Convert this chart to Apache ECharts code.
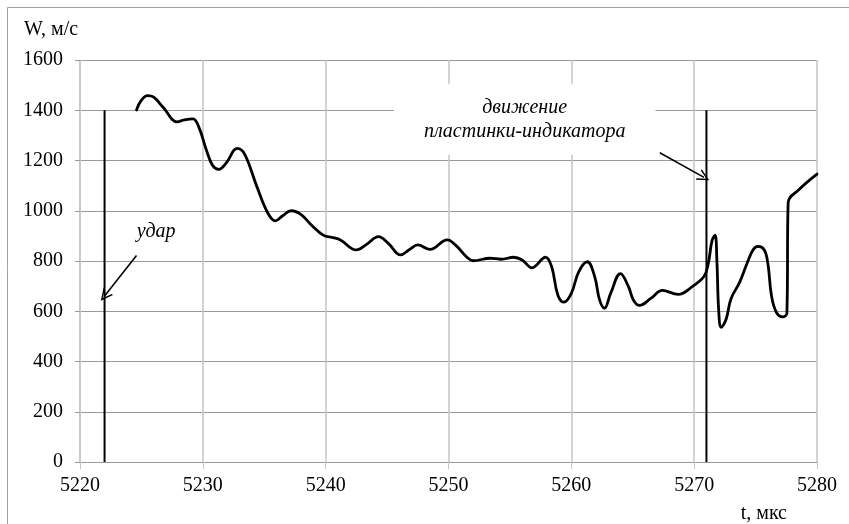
<!DOCTYPE html>
<html>
<head>
<meta charset="utf-8">
<script src="https://cdn.jsdelivr.net/npm/echarts@6/dist/echarts.min.js"></script>
<style>
html,body{margin:0;padding:0;background:#fff;}
#c{width:849px;height:524px;}
</style>
</head>
<body>
<div id="c"></div>
<script>
// Measured velocity curve: time (мкс) and velocity (м/с)
var tValues = [5224.6,5225.0,5225.5,5226.0,5226.8,5227.9,5228.5,5229.2,5229.7,5230.3,5230.8,5231.3,5231.9,5232.8,5233.4,5234.4,5235.3,5235.9,5236.5,5237.2,5238.0,5238.9,5239.8,5240.6,5241.2,5242.5,5243.3,5244.3,5245.1,5246.1,5246.8,5247.5,5248.5,5249.9,5250.6,5251.5,5252.0,5253.4,5254.3,5255.3,5256.0,5256.8,5257.9,5258.4,5258.9,5259.4,5260.0,5260.6,5261.3,5261.9,5262.3,5262.7,5263.2,5264.0,5264.65,5265.05,5265.55,5266.5,5267.4,5268.7,5269.9,5270.8,5271.15,5271.45,5271.7,5271.85,5272.0,5272.2,5272.6,5273.0,5273.7,5274.3,5274.8,5275.2,5275.7,5276.0,5276.3,5276.7,5277.2,5277.55,5277.65,5278.5,5280.0];
var wValues = [1401,1440,1458,1452,1410,1354,1362,1366,1330,1240,1180,1165,1190,1248,1225,1096,990,960,980,1000,985,940,903,893,884,844,865,897,870,824,845,864,846,884,862,815,801,811,807,815,804,773,815,777,665,636,671,757,797,738,645,612,671,750,698,645,623,652,683,667,700,738,790,880,903,800,600,536,568,650,715,790,845,858,845,790,660,595,578,592,1032,1083,1146];

// Event markers (vertical lines)
var markerT = [5222, 5271];
var markerTop = 1400;

// Annotation arrows: [fromT, fromW, toT, toW]
var arrows = [[5224.6, 822, 5222.0, 661], [5267.2, 1231, 5270.8, 1133]];

// Annotation texts
var noteTexts = ['удар', 'движение\nпластинки-индикатора'];
var notePos = [[5226.2, 917], [5256.2, 1364]];

var xTicks = {min: 5220, max: 5280, interval: 10};
var yTicks = {min: 0, max: 1600, interval: 200};

var curve = tValues.map(function (t, i) { return [t, wValues[i]]; });

var series = [{
  type: 'line',
  data: curve,
  smooth: 0.4,
  showSymbol: false,
  symbol: 'none',
  lineStyle: {color: '#000', width: 2.8, join: 'round', cap: 'round'},
  z: 5
}];

markerT.forEach(function (t) {
  series.push({
    type: 'line',
    data: [[t, 0], [t, markerTop]],
    symbol: 'none',
    lineStyle: {color: '#000', width: 2},
    z: 4
  });
});

series.push({
  type: 'lines',
  coordinateSystem: 'cartesian2d',
  data: arrows.map(function (a) { return {coords: [[a[0], a[1]], [a[2], a[3]]]}; }),
  symbol: ['none', 'path://M5,0 L10,10 L8.6,10 L5,2.4 L1.4,10 L0,10 Z'],
  symbolSize: [13, 12],
  lineStyle: {color: '#000', width: 1.6, opacity: 1},
  z: 6
});

series.push({
  type: 'scatter',
  data: notePos.map(function (p, i) {
    return {
      value: p,
      label: {
        show: true,
        position: 'inside',
        formatter: noteTexts[i],
        fontFamily: 'Liberation Serif',
        fontStyle: 'italic',
        fontSize: 20,
        lineHeight: 24,
        color: '#000',
        opacity: 1,
        align: 'center',
        verticalAlign: 'middle',
        backgroundColor: i === 1 ? '#fff' : 'transparent',
        padding: i === 1 ? [10, 30, 13, 30] : 0
      }
    };
  }),
  symbolSize: 2,
  itemStyle: {color: 'rgba(0,0,0,0)'},
  silent: true,
  z: 3
});

var numFmt = function (v) { return String(v); };

var chart = echarts.init(document.getElementById('c'), null, {renderer: 'canvas'});
chart.setOption({
  animation: false,
  backgroundColor: '#fff',
  grid: {left: 80, right: 32, top: 60, bottom: 62, containLabel: false},
  xAxis: {
    type: 'value',
    min: xTicks.min, max: xTicks.max, interval: xTicks.interval,
    name: 't, мкс',
    nameLocation: 'end',
    nameGap: 0,
    nameTextStyle: {fontFamily: 'Liberation Serif', fontSize: 20, color: '#000', align: 'right', verticalAlign: 'top', padding: [42, 30, 0, 0]},
    axisLine: {show: true, lineStyle: {color: '#9a9a9a', width: 1}},
    axisTick: {show: true, inside: false, length: 7, lineStyle: {color: '#c4c4c4'}},
    axisLabel: {fontFamily: 'Liberation Serif', fontSize: 20, color: '#000', margin: 14, formatter: numFmt},
    splitLine: {show: true, lineStyle: {color: '#c4c4c4', width: 1.5}}
  },
  yAxis: {
    type: 'value',
    min: yTicks.min, max: yTicks.max, interval: yTicks.interval,
    name: 'W, м/с',
    nameLocation: 'end',
    nameGap: 20,
    nameTextStyle: {fontFamily: 'Liberation Serif', fontSize: 20, color: '#000', align: 'left', padding: [0, 0, 0, -56]},
    axisLine: {show: true, lineStyle: {color: '#c4c4c4', width: 1.5}},
    axisTick: {show: true, length: 5, lineStyle: {color: '#9a9a9a'}},
    axisLabel: {fontFamily: 'Liberation Serif', fontSize: 20, color: '#000', margin: 17, formatter: numFmt},
    splitLine: {show: true, lineStyle: {color: '#9a9a9a', width: 1}}
  },
  graphic: [{
    type: 'polyline',
    shape: {points: [[7.5, 530], [7.5, 7.5], [860, 7.5]]},
    style: {stroke: '#a0a0a0', lineWidth: 1, fill: null},
    silent: true
  }],
  series: series
});
</script>
</body>
</html>
